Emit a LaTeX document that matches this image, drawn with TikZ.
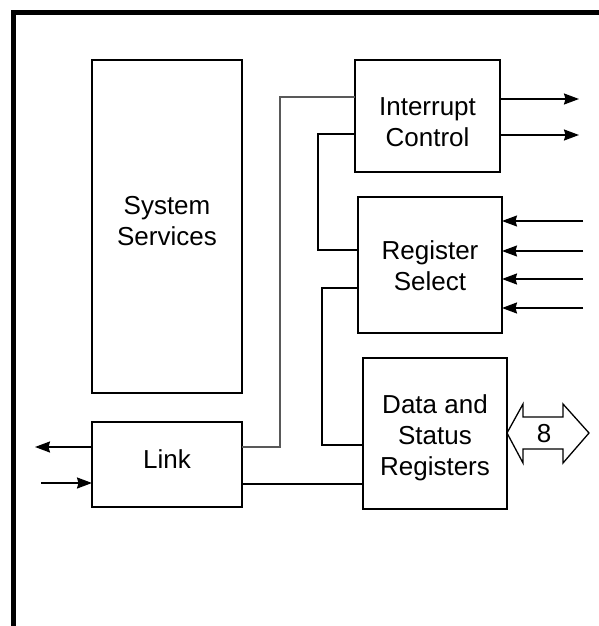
\documentclass[tikz,border=0pt]{standalone}
\usepackage{fontspec}
\setmainfont{Liberation Sans}
\usetikzlibrary{arrows.meta}
\begin{document}
\begin{tikzpicture}[x=1pt,y=-1pt,
  box/.style={draw,line width=1.6pt,minimum width=#1,inner sep=0pt,outer sep=0pt},
  lbl/.style={font=\fontsize{26}{31}\selectfont,align=center,inner sep=0pt},
  wire/.style={line width=1.6pt},
  thinwire/.style={line width=1.2pt,draw=black!65},
  sig/.style={line width=1.8pt,-{Stealth[length=15pt,width=11pt,inset=1.5pt]}},
  thinsig/.style={line width=1.2pt,-{Stealth[length=15pt,width=11pt,inset=1.5pt]}}]
\useasboundingbox (0,0) rectangle (599,626);
% frame
\draw[line width=5pt,line join=miter] (13,626) -- (13,12.5) -- (599,12.5);
% boxes
\node[box=150pt,minimum height=333pt] (sys) at (167,226.5) {};
\node[box=150pt,minimum height=85pt] (link) at (167,464.5) {};
\node[box=145pt,minimum height=112pt] (intc) at (427.5,116) {};
\node[box=144pt,minimum height=136pt] (rsel) at (430,265) {};
\node[box=144pt,minimum height=151pt] (data) at (435,433.5) {};
% labels
\node[lbl] (tsys) at (167,221) {System\\Services};
\node[lbl] (tlink) at (167,459) {Link};
\node[lbl] (tintc) at (427.5,122) {Interrupt\\Control};
\node[lbl] (trsel) at (430,266) {Register\\Select};
\node[lbl] (tdata) at (435,438) {Data and\\Status\\Registers};
% connectors
\draw[thinwire] (link.east |- 0,447) -- (280,447) -- (280,97) -- (intc.west |- 0,97);
\draw[wire] (intc.west |- 0,134) -- (318,134) -- (318,250) -- (rsel.west |- 0,250);
\draw[wire] (rsel.west |- 0,288) -- (322,288) -- (322,445) -- (data.west |- 0,445);
\draw[wire] (link.east |- 0,484) -- (data.west |- 0,484);
% interrupt outputs
\coordinate (o1) at (579,99);
\coordinate (o2) at (579,135);
\draw[sig] (intc.east |- o1) -- (o1);
\draw[sig] (intc.east |- o2) -- (o2);
% register select inputs
\coordinate (i1) at (583,221);
\coordinate (i2) at (583,251);
\coordinate (i3) at (583,279);
\coordinate (i4) at (583,308);
\draw[thinsig] (i1) -- (rsel.east |- i1);
\draw[thinsig] (i2) -- (rsel.east |- i2);
\draw[sig] (i3) -- (rsel.east |- i3);
\draw[sig] (i4) -- (rsel.east |- i4);
% link signals
\coordinate (lo) at (35,447);
\coordinate (li) at (41,483);
\draw[sig] (link.west |- lo) -- (lo);
\draw[sig] (li) -- (link.west |- li);
% 8-bit bus
\draw[line width=1.3pt,line join=miter] (data.east |- 0,433) -- (523,404) -- (523,417) -- (563,417) -- (563,404) -- (589,433) -- (563,463) -- (563,449) -- (523,449) -- (523,463) -- cycle;
\node[lbl] (bus) at (544,434) {8};
\end{tikzpicture}
\end{document}
